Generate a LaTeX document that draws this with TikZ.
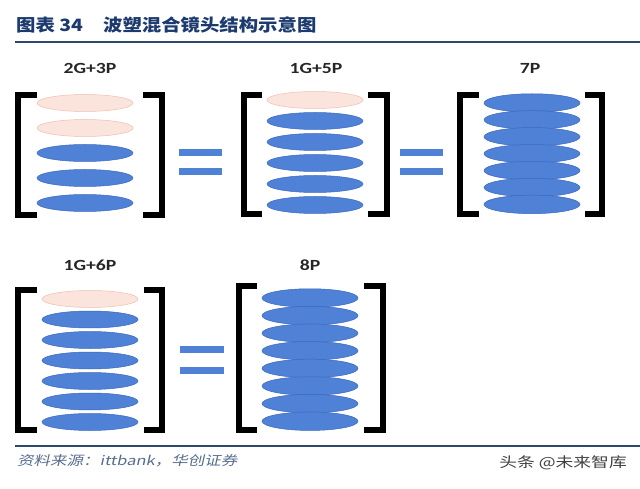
\documentclass[tikz,border=0pt]{standalone}
\usepackage{fontspec}
\usepackage{xcolor}
\usetikzlibrary{shapes.geometric, positioning}
\newfontfamily\cjk{Noto Sans CJK SC}
\newfontfamily\cjksrc[FakeSlant=0.18]{Noto Sans CJK SC}
\newfontfamily\lensfont{Carlito}
\definecolor{lensblue}{RGB}{79,129,214}
\definecolor{lensedge}{RGB}{58,104,188}
\definecolor{glasspink}{RGB}{251,228,220}
\definecolor{glassedge}{RGB}{238,190,175}
\definecolor{titleblue}{RGB}{28,58,110}
\definecolor{rulecol}{RGB}{45,72,112}
\newcommand{\wide}[1]{\scalebox{1.27}[1]{#1}}
\newcommand{\titlewide}[1]{\scalebox{1.14}[1]{#1}}
\tikzset{
  plastic/.style={ellipse, draw=lensedge, fill=lensblue, line width=0.5pt,
    minimum width=96pt, minimum height=17pt, inner sep=0pt},
  glass/.style={plastic, draw=glassedge, fill=glasspink},
  tight/.style={plastic, minimum height=18.5pt},
  brkt/.style={line width=6pt, black, line join=miter},
  eqbar/.style={fill=lensblue},
  caption/.style={font=\lensfont\bfseries\fontsize{15.5}{17}\selectfont, text=black!85},
  heading/.style={inner sep=0pt, text=titleblue, font=\cjk\bfseries\fontsize{17}{20}\selectfont},
}

\begin{document}
\begin{tikzpicture}[x=1pt, y=-1pt]
		\useasboundingbox (0,0) rectangle (640,489);
		
		% heading
		\node[heading, anchor=west] (fignum) at (16,25) {\titlewide{图表 34}};
		\node[heading, anchor=west] (figtitle) at (103,25) {\titlewide{波塑混合镜头结构示意图}};
		\draw[rulecol, line width=2.5pt] (15,42) -- (640,42);
		
		% 2G+3P
		\node[caption] (lbl1) at (90,68) {\wide{2G+3P}};
		\foreach \i/\s in {1/glass,2/glass,3/plastic,4/plastic,5/plastic}
			\node[\s] (a\i) at (85,{103+25*(\i-1)}) {};
		\draw[brkt] (37,95) -- (18,95) -- (18,215) -- (37,215);
		\draw[brkt] (143,95) -- (162,95) -- (162,215) -- (143,215);
		\fill[eqbar] (179,149) rectangle (222,156);
		\fill[eqbar] (179,168) rectangle (222,175);
		
		% 1G+5P
		\node[caption] (lbl2) at (316,68) {\wide{1G+5P}};
		\node[glass] (b1) at (315,100) {};
		\foreach \i in {2,...,6}
			\node[plastic] (b\i) at (315,{100+21*(\i-1)}) {};
		\draw[brkt] (262,95) -- (244,95) -- (244,214) -- (262,214);
		\draw[brkt] (368,95) -- (387,95) -- (387,214) -- (368,214);
		\fill[eqbar] (400,149) rectangle (443,156);
		\fill[eqbar] (400,168) rectangle (443,175);
		
		% 7P
		\node[caption] (lbl3) at (530,68) {\wide{7P}};
		\foreach \i in {1,...,7}
			\node[tight] (c\i) at (532,{103+16.9*(\i-1)}) {};
		\draw[brkt] (479,95) -- (460,95) -- (460,214) -- (479,214);
		\draw[brkt] (585,95) -- (602,95) -- (602,214) -- (585,214);
		
		% 1G+6P
		\node[caption] (lbl4) at (90,265) {\wide{1G+6P}};
		\node[glass] (d1) at (90,299) {};
		\foreach \i in {2,...,7}
			\node[plastic] (d\i) at (90,{299+20.5*(\i-1)}) {};
		\draw[brkt] (37,290) -- (18,290) -- (18,430) -- (37,430);
		\draw[brkt] (144,290) -- (162,290) -- (162,430) -- (144,430);
		\fill[eqbar] (180,346) rectangle (224,353);
		\fill[eqbar] (180,367) rectangle (224,374);
		
		% 8P
		\node[caption] (lbl5) at (310,265) {\wide{8P}};
		\foreach \i in {1,...,8}
			\node[tight] (e\i) at (310,{298+17.6*(\i-1)}) {};
		\draw[brkt] (257,286) -- (239,286) -- (239,430) -- (257,430);
		\draw[brkt] (364,286) -- (383,286) -- (383,430) -- (364,430);
		
		% footer
		\draw[rulecol, line width=2.5pt] (15,446) -- (640,446);
		\node[anchor=west, inner sep=0pt, text=rulecol!80, font=\cjksrc\fontsize{13}{15}\selectfont] (source) at (17,461) {\wide{资料来源：ittbank，华创证券}};
		\node[anchor=east, inner sep=0pt, text=black!75, font=\cjk\fontsize{14}{16}\selectfont] (mark) at (627,463) {\wide{头条 @未来智库}};
		
\end{tikzpicture}
\end{document}
